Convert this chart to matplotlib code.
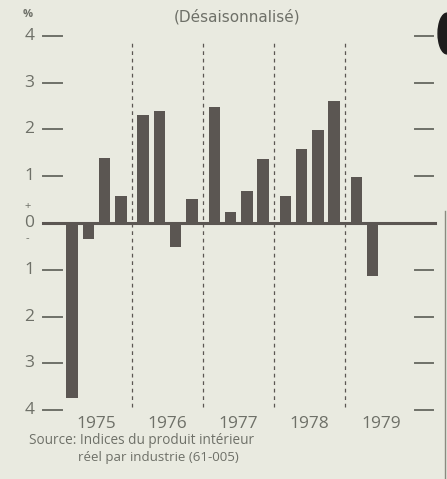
import matplotlib.pyplot as plt
from matplotlib.patches import Ellipse

# quarterly change, seasonally adjusted, 1975 Q1 .. 1979 Q2
years = ["1975", "1976", "1977", "1978", "1979"]
values_1975 = [-3.75, -0.35, 1.38, 0.58]
values_1976 = [2.31, 2.39, -0.52, 0.51]
values_1977 = [2.48, 0.24, 0.68, 1.37]
values_1978 = [0.58, 1.58, 1.99, 2.60]
values_1979 = [0.98, -1.13]
yticks = [4, 3, 2, 1, 0, -1, -2, -3, -4]

BG = "#e9eae0"
BAR = "#5b5652"
TXT = "#6e7068"
plt.rcParams['font.family'] = ['Open Sans', 'DejaVu Sans']

fig = plt.figure(figsize=(4.47, 4.79), dpi=100)
fig.patch.set_facecolor(BG)
ax = fig.add_axes([0, 0.095, 1, 0.879])
ax.set_facecolor(BG)
ax.set_xlim(-4.42, 23.0)
ax.set_ylim(-4.5, 4.5)
ax.axis("off")

year_w = 4.36
all_vals = [values_1975, values_1976, values_1977, values_1978, values_1979]
for yi, vals in enumerate(all_vals):
    xs = [yi * year_w + q for q in range(len(vals))]
    ax.bar(xs, vals, width=0.7, color=BAR, zorder=2)
    ax.text(yi * year_w + 1.5, -4.39, years[yi], ha="center", va="baseline",
            fontsize=12.5, color=TXT)
    if yi > 0:
        ax.plot([yi * year_w - 0.68] * 2, [-3.93, 3.91], color=BAR, lw=0.9,
                ls=(0, (3, 3)), zorder=1)

# zero line
ax.plot([-1.78, 22.27], [0, 0], color=BAR, lw=2.2, zorder=3)

# tick marks both sides + labels
for t in yticks:
    if t != 0:
        ax.plot([-1.78, -0.61], [t, t], color=TXT, lw=1.4)
        ax.plot([21.04, 22.15], [t, t], color=TXT, lw=1.4)
    ax.text(-2.3, t, str(abs(t)), ha="right", va="center", fontsize=12.5, color=TXT)
ax.text(-2.75, 0.35, "+", ha="center", va="center", fontsize=8, color=TXT)
ax.text(-2.75, -0.33, "-", ha="center", va="center", fontsize=8, color=TXT)
ax.text(-2.75, 4.45, "%", ha="center", va="center", fontsize=8, color=TXT,
        fontweight="bold")

fig.text(0.531, 0.964, "(Désaisonnalisé)", ha="center", va="center",
         fontsize=11, color=TXT, family="DejaVu Sans")
fig.text(0.065, 0.073, "Source: Indices du produit intérieur", ha="left",
         va="baseline", fontsize=9.8, color=TXT)
fig.text(0.175, 0.037, "réel par industrie (61-005)", ha="left",
         va="baseline", fontsize=9.6, color=TXT)

# scan edge: dark blob top right and thin edge line
fig.patches.append(Ellipse((1.0, 0.93), 0.04, 0.085, transform=fig.transFigure,
                           color="#1e1c1c", figure=fig))
fig.add_artist(plt.Line2D([0.996, 0.996], [0.0, 0.56], color="#8a8a80", lw=1.0,
                          transform=fig.transFigure))

fig.savefig("out.png", dpi=100, facecolor=BG)
